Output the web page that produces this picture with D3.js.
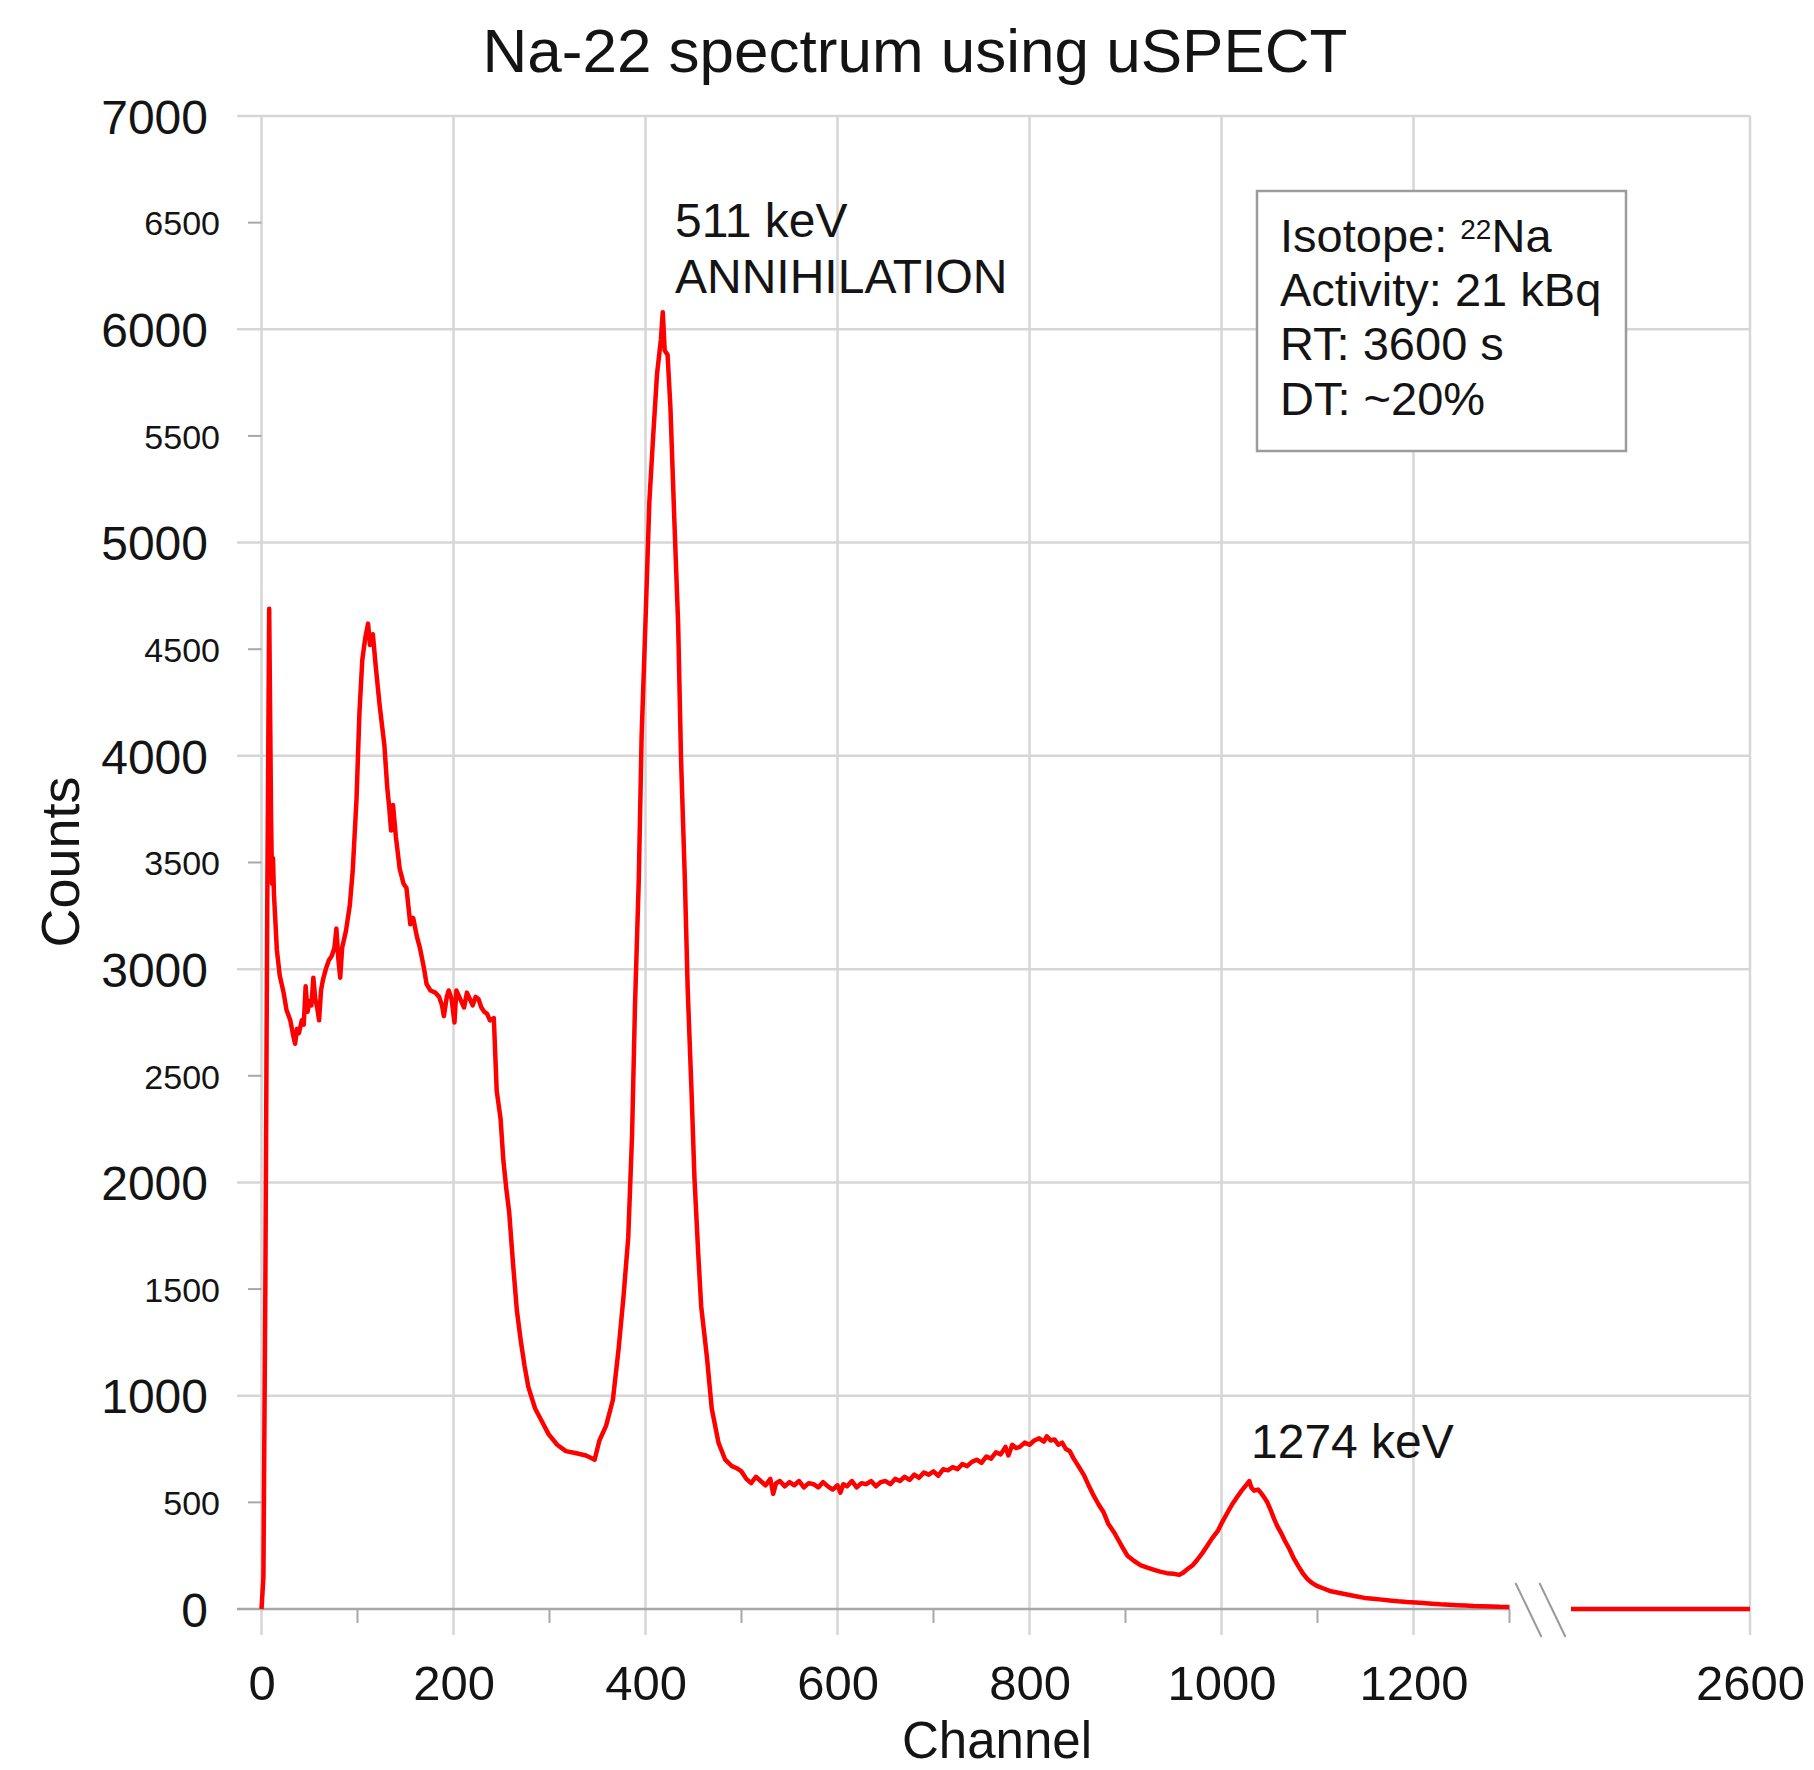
<!DOCTYPE html>
<html lang="en">
<head>
<meta charset="utf-8" />
<title>Na-22 spectrum using uSPECT</title>
<style>
    body { margin: 0; background: #fff; }
    svg { display: block; font-family: "Liberation Sans", Arial, sans-serif; }
    .grid line { stroke: #d6d6d6; stroke-width: 2.5; }
    .axisline { stroke: #a8a8a8; stroke-width: 2.5; }
    .tick-minor { stroke: #a8a8a8; stroke-width: 2; }
    .lbl { fill: #141414; }
</style>
</head>
<body>
<div id="graph"></div>
<script src="https://d3js.org/d3.v7.min.js"></script>
<script>
    // spectrum, channels 0..1300
    var channels = [0, 2, 4, 6, 8, 10, 11, 12, 13, 16, 19, 23, 26, 30, 33, 35, 37, 39, 42, 44, 46, 48, 50, 52, 54, 56, 58, 60, 62, 64, 67, 70, 73, 76, 78, 80, 82, 84, 86, 88, 92, 95, 99,
        102, 105, 108, 111, 113, 116, 119, 123, 128, 131, 133, 135, 137, 140, 144, 148, 151, 155, 158, 162, 165, 169, 172, 176, 181, 185, 188, 190, 193, 195, 198,
        201, 203, 205, 208, 211, 214, 217, 220, 223, 226, 229, 232, 235, 238, 242, 245, 249, 252, 255, 258, 262, 266, 270, 274, 278, 285, 292, 299,
        308, 317, 328, 338, 347, 352, 359, 366, 372, 377, 382, 386, 389, 393, 396, 400, 404, 408, 412, 416, 418, 420, 423, 426, 430, 434, 437, 441, 444, 448, 451, 455, 458, 464, 469, 476, 483, 490, 495,
        500, 505, 510, 515, 520, 525, 530, 533, 536, 540, 545, 550, 555, 560, 565, 570, 575, 580, 585, 590, 595,
        600, 603, 606, 610, 615, 620, 625, 630, 635, 640, 645, 650, 655, 660, 665, 670, 675, 680, 685, 690, 695,
        700, 705, 710, 715, 720, 725, 730, 735, 740, 745, 750, 755, 760, 765, 770, 775, 778, 782, 786, 790, 795,
        800, 805, 810, 815, 818, 822, 826, 830, 834, 838, 842, 846, 851, 857, 862, 867, 872, 877, 882, 888, 893, 898,
        902, 909, 916, 922, 929, 936, 943, 950, 956, 960, 964, 970, 975, 980, 985, 990, 996,
        1001, 1006, 1011, 1017, 1021, 1025, 1029, 1031, 1034, 1038, 1041, 1045, 1048, 1052, 1055, 1058, 1062, 1066, 1071, 1075, 1080, 1085, 1090, 1095,
        1100, 1107, 1114, 1123, 1132, 1140, 1149, 1158, 1167, 1175, 1184, 1193, 1202, 1210, 1219, 1228, 1237, 1245, 1254, 1263, 1272, 1281, 1290, 1300];
    var counts = [0, 150, 1500, 3300, 4690, 3700, 3400, 3520, 3350, 3090, 2970, 2890, 2810, 2760, 2690, 2650, 2720, 2700, 2760, 2740, 2920, 2800, 2850, 2830, 2960, 2860, 2820, 2760, 2900, 2950, 3000, 3040, 3060, 3100, 3190, 3050, 2960, 3100, 3140, 3180, 3300, 3460, 3800,
        4200, 4450, 4550, 4620, 4520, 4570, 4420, 4240, 4050, 3850, 3760, 3650, 3770, 3620, 3470, 3400, 3380, 3210, 3240, 3150, 3100, 3010, 2930, 2900, 2890, 2870, 2830, 2780, 2870, 2900, 2860,
        2750, 2900, 2880, 2850, 2820, 2890, 2860, 2830, 2870, 2860, 2820, 2800, 2790, 2760, 2770, 2430, 2300, 2100, 1970, 1860, 1620, 1400, 1260, 1140, 1040, 940, 880, 820,
        770, 740, 730, 720, 700, 790, 860, 980, 1220, 1460, 1740, 2220, 2820, 3420, 4100, 4630, 5190, 5500, 5790, 5950, 6080, 5900, 5880, 5630, 5110, 4620, 3990, 3420, 2900, 2420, 2020, 1660, 1420, 1180, 940, 780, 700, 670, 660,
        645, 610, 590, 620, 600, 580, 610, 540, 590, 600, 575, 595, 580, 600, 570, 590, 585, 570, 595, 575, 560,
        580, 545, 585, 575, 600, 570, 590, 585, 600, 575, 595, 600, 585, 610, 600, 620, 605, 630, 615, 640, 630,
        645, 625, 655, 650, 665, 655, 680, 670, 690, 700, 685, 715, 705, 735, 725, 760, 720, 770, 755, 760, 780,
        770, 790, 800, 785, 810, 790, 795, 770, 780, 750, 740, 705, 670, 625, 575, 530, 490, 455, 400, 360, 320, 280,
        250, 225, 205, 195, 185, 175, 168, 165, 160, 170, 185, 205, 232, 262, 295, 330, 365,
        410, 450, 490, 530, 555, 577, 600, 570, 555, 560, 545, 520, 498, 455, 420, 390, 357, 320, 279, 240, 201, 165, 138, 120,
        107, 95, 83, 75, 67, 60, 52, 48, 44, 40, 36, 33, 31, 28, 25, 22, 20, 18, 16, 14, 13, 12, 10, 9];
    // after the axis break
    var tailChannels = [1400, 2600];
    var tailCounts = [0, 0];

    var xMajor = [0, 200, 400, 600, 800, 1000, 1200, 2600];
    var xMinor = [100, 300, 500, 700, 900, 1100, 1300];
    var yMajor = [0, 1000, 2000, 3000, 4000, 5000, 6000, 7000];
    var yMinor = [500, 1500, 2500, 3500, 4500, 5500, 6500];

    var margin = { top: 116, right: 64, bottom: 161, left: 237 },
        width = 1814 - margin.left - margin.right,
        height = 1770 - margin.top - margin.bottom;

    // broken axis: 1300..1400 is cut out
    var x = d3.scaleLinear()
        .domain([0, 1300, 1400, 2600])
        .range([24.5, 1272.5, 1334, width]);
    var y = d3.scaleLinear()
        .domain([0, 7000])
        .range([height, 0]);

    var root = d3.select("#graph").append("svg")
        .attr("width", 1814)
        .attr("height", 1770);

    root.append("text")
        .attr("class", "lbl")
        .attr("x", 915).attr("y", 72)
        .attr("text-anchor", "middle")
        .style("font-size", "62px")
        .text("Na-22 spectrum using uSPECT");

    var svg = root.append("g")
        .attr("transform", "translate(" + margin.left + "," + margin.top + ")");

    // grid
    var grid = svg.append("g").attr("class", "grid");
    grid.selectAll(".h").data(yMajor.filter(function (d) { return d > 0; }))
        .enter().append("line")
        .attr("x1", 0).attr("x2", width)
        .attr("y1", function (d) { return y(d); })
        .attr("y2", function (d) { return y(d); });
    grid.selectAll(".v").data(xMajor)
        .enter().append("line")
        .attr("x1", function (d) { return x(d); })
        .attr("x2", function (d) { return x(d); })
        .attr("y1", 0).attr("y2", height + 26);

    // axis base line, broken
    svg.append("line").attr("class", "axisline")
        .attr("x1", 0).attr("x2", x(1300))
        .attr("y1", height).attr("y2", height);
    svg.append("line").attr("class", "axisline")
        .attr("x1", x(1400)).attr("x2", x(2600))
        .attr("y1", height).attr("y2", height);

    svg.selectAll(".xminor").data(xMinor)
        .enter().append("line").attr("class", "tick-minor")
        .attr("x1", function (d) { return x(d); })
        .attr("x2", function (d) { return x(d); })
        .attr("y1", height).attr("y2", height + 14);
    svg.selectAll(".yminor").data(yMinor)
        .enter().append("line").attr("class", "tick-minor")
        .attr("x1", 11).attr("x2", x(0))
        .attr("y1", function (d) { return y(d); })
        .attr("y2", function (d) { return y(d); });

    // break marks
    [0, 24].forEach(function (off) {
        svg.append("line")
            .attr("x1", x(1300) + 6 + off).attr("y1", height - 26)
            .attr("x2", x(1300) + 32 + off).attr("y2", height + 28)
            .attr("stroke", "#9a9a9a").attr("stroke-width", 2);
    });

    // axes (labels only)
    var xAxis = d3.axisBottom(x).tickValues(xMajor).tickSize(0).tickFormat(d3.format("d"));
    var gx = svg.append("g")
        .attr("transform", "translate(0," + height + ")")
        .call(xAxis);
    gx.select(".domain").remove();
    gx.selectAll("text")
        .attr("class", "lbl")
        .attr("y", 91).attr("dy", 0)
        .style("font-size", "49px");

    var yAxis = d3.axisLeft(y).tickValues(yMajor).tickSize(0).tickFormat(d3.format("d"));
    var gy = svg.append("g").call(yAxis);
    gy.select(".domain").remove();
    gy.selectAll("text")
        .attr("class", "lbl")
        .attr("x", -29).attr("dy", "0.36em")
        .style("font-size", "48px");

    var yAxisMinor = d3.axisLeft(y).tickValues(yMinor).tickSize(0).tickFormat(d3.format("d"));
    var gy2 = svg.append("g").call(yAxisMinor);
    gy2.select(".domain").remove();
    gy2.selectAll("text")
        .attr("class", "lbl")
        .attr("x", -17).attr("dy", "0.36em")
        .style("font-size", "34px");

    // spectrum
    var lineFunc = d3.line()
        .x(function (d) { return x(d[0]); })
        .y(function (d) { return y(d[1]); });

    svg.append("path")
        .datum(d3.zip(channels, counts))
        .attr("d", lineFunc)
        .attr("fill", "none")
        .attr("stroke", "#ff0000")
        .attr("stroke-width", 4.5)
        .attr("stroke-linejoin", "round");
    svg.append("path")
        .datum(d3.zip(tailChannels, tailCounts))
        .attr("d", lineFunc)
        .attr("fill", "none")
        .attr("stroke", "#ff0000")
        .attr("stroke-width", 4.5);

    // axis titles
    root.append("text")
        .attr("class", "lbl")
        .attr("x", 997).attr("y", 1758)
        .attr("text-anchor", "middle")
        .style("font-size", "51px")
        .text("Channel");
    root.append("text")
        .attr("class", "lbl")
        .attr("transform", "translate(79,862) rotate(-90)")
        .attr("text-anchor", "middle")
        .style("font-size", "54px")
        .text("Counts");

    // peak notes
    root.append("text").attr("class", "lbl")
        .attr("x", 675).attr("y", 237).style("font-size", "48px").text("511 keV");
    root.append("text").attr("class", "lbl")
        .attr("x", 675).attr("y", 293).style("font-size", "48px").text("ANNIHILATION");
    root.append("text").attr("class", "lbl")
        .attr("x", 1251).attr("y", 1458).style("font-size", "48px").text("1274 keV");

    // info box
    root.append("rect")
        .attr("x", 1257).attr("y", 191)
        .attr("width", 369).attr("height", 260)
        .attr("fill", "#fff")
        .attr("stroke", "#9c9c9c").attr("stroke-width", 2.5);

    var info = root.append("text").attr("class", "lbl").style("font-size", "47px");
    var l1 = info.append("tspan").attr("x", 1280).attr("y", 252);
    l1.append("tspan").text("Isotope: ");
    l1.append("tspan").attr("dy", -13).style("font-size", "28px").text("22");
    l1.append("tspan").attr("dy", 13).text("Na");
    info.append("tspan").attr("x", 1280).attr("y", 306).text("Activity: 21 kBq");
    info.append("tspan").attr("x", 1280).attr("y", 360).text("RT: 3600 s");
    info.append("tspan").attr("x", 1280).attr("y", 415).text("DT: ~20%");
</script>
</body>
</html>
